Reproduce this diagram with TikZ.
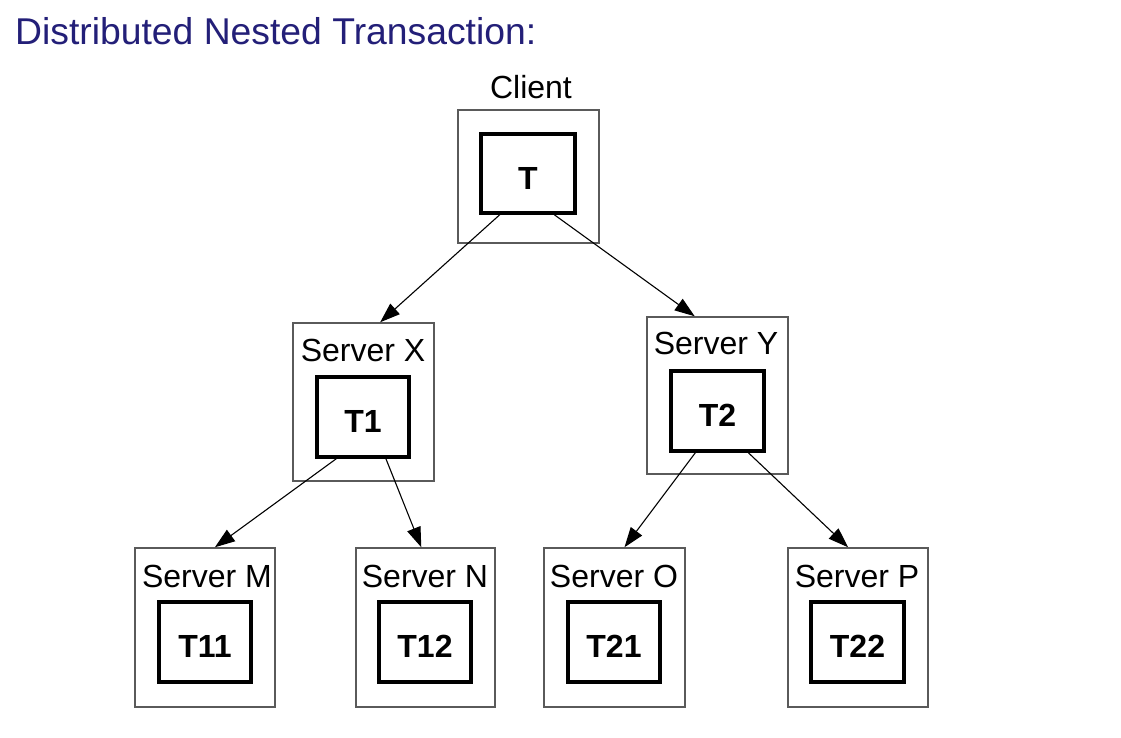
\documentclass[tikz,border=0pt]{standalone}
\usepackage{fontspec}
\setmainfont{Liberation Sans}
\usetikzlibrary{arrows.meta,calc}
\definecolor{titleblue}{RGB}{35,31,120}
\definecolor{boxgray}{RGB}{90,90,90}
\begin{document}
\begin{tikzpicture}[x=1pt,y=-1pt,
  outerbox/.style={draw=boxgray,line width=1.5pt,inner sep=0pt,minimum width=141pt},
  innerbox/.style={draw=black,line width=3.5pt,inner sep=0pt,minimum width=92pt,minimum height=80pt,text height=31pt,text depth=0pt,font=\fontsize{32}{36}\selectfont\bfseries},
  lbl/.style={inner sep=0pt,anchor=base,font=\fontsize{32}{36}\selectfont},
  conn/.style={line width=1.1pt,-{Triangle[length=20pt,width=14pt]}}]
\useasboundingbox (0,0) rectangle (1121,737);
\fill[white] (0,0) rectangle (1121,737);
% title
\node[inner sep=0pt,anchor=base west,text=titleblue,font=\fontsize{37.3}{40}\selectfont] (title) at (15,44) {Distributed Nested Transaction:};
% outer boxes
\node[outerbox,minimum height=133pt] (client) at (528.5,176.5) {};
\node[outerbox,minimum height=158pt] (sx) at (363.5,402) {};
\node[outerbox,minimum height=157pt] (sy) at (717.5,395.5) {};
\node[outerbox,minimum height=159pt,minimum width=140pt] (sm) at (205,627.5) {};
\node[outerbox,minimum height=159pt,minimum width=139pt] (sn) at (425.5,627.5) {};
\node[outerbox,minimum height=159pt] (so) at (614.5,627.5) {};
\node[outerbox,minimum height=159pt,minimum width=140pt] (sp) at (858,627.5) {};
% labels
\node[lbl] (lclient) at (531,98) {Client};
\node[lbl] (lsx) at (363,361) {Server X};
\node[lbl] (lsy) at (716,354) {Server Y};
\node[lbl] (lsm) at (207,587) {Server M};
\node[lbl] (lsn) at (425,587) {Server N};
\node[lbl] (lso) at (614,587) {Server O};
\node[lbl] (lsp) at (857,587) {Server P};
% inner boxes
\node[innerbox,minimum width=94pt,minimum height=79pt] (t) at (528,173.5) {T};
\node[innerbox] (t1) at (363,417) {T1};
\node[innerbox,minimum width=93pt] (t2) at (717.5,411) {T2};
\node[innerbox] (t11) at (205,642) {T11};
\node[innerbox] (t12) at (425,642) {T12};
\node[innerbox] (t21) at (614,642) {T21};
\node[innerbox,minimum width=93pt] (t22) at (857.5,642) {T22};
% connectors
\draw[conn] ($(t.south west)!0.21!(t.south east)$) -- ($(sx.north west)!0.617!(sx.north east)$);
\draw[conn] ($(t.south west)!0.77!(t.south east)$) -- ($(sy.north west)!0.34!(sy.north east)$);
\draw[conn] ($(t1.south west)!0.22!(t1.south east)$) -- ($(sm.north west)!0.57!(sm.north east)$);
\draw[conn] ($(t1.south west)!0.74!(t1.south east)$) -- ($(sn.north west)!0.47!(sn.north east)$);
\draw[conn] ($(t2.south west)!0.27!(t2.south east)$) -- ($(so.north west)!0.57!(so.north east)$);
\draw[conn] ($(t2.south west)!0.82!(t2.south east)$) -- ($(sp.north west)!0.43!(sp.north east)$);
\end{tikzpicture}
\end{document}
